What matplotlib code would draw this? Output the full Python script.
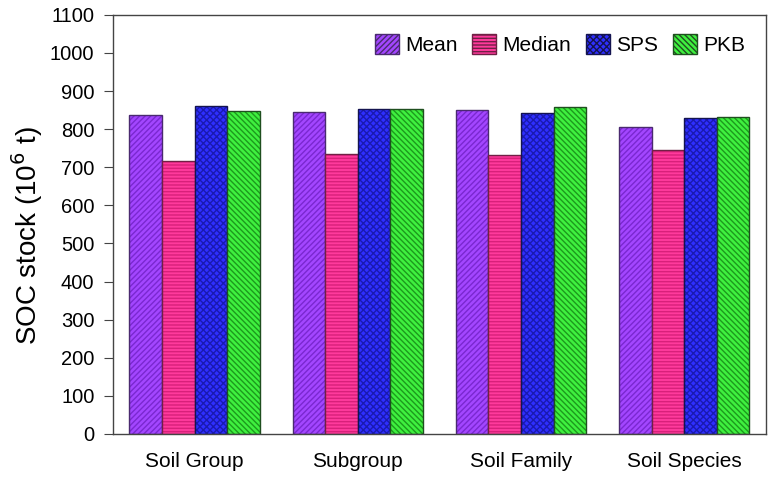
import numpy as np
import matplotlib
matplotlib.use('Agg')
import matplotlib.pyplot as plt

plt.rcParams['font.family'] = ['Liberation Sans', 'DejaVu Sans']
plt.rcParams['hatch.linewidth'] = 1.0

# data
categories = ['Soil Group', 'Subgroup', 'Soil Family', 'Soil Species']
series = ['Mean', 'Median', 'SPS', 'PKB']
mean_vals = [836, 845, 851, 806]
median_vals = [716, 735, 733, 745]
sps_vals = [860, 854, 843, 828]
pkb_vals = [848, 852, 857, 832]

values = [mean_vals, median_vals, sps_vals, pkb_vals]
face = ['#a346ff', '#ff3a9c', '#2f2fff', '#3ff03f']
hatch_col = ['#7a28d0', '#d8207a', '#1a1ab0', '#1d9a1d']
outline = ['#4a2a70', '#702045', '#141450', '#1f4f1f']
hatches = ['//////', '-----', 'xxxxx', '\\\\\\\\\\\\']

fig = plt.figure(figsize=(7.75, 4.8), dpi=100)
ax = fig.add_axes([0.146, 0.096, 0.842, 0.873])

x = np.arange(len(categories))
width = 0.2
for i, name in enumerate(series):
    pos = x + (i - 1.5) * width
    # fill + hatch in a darker shade, then outline on top
    ax.bar(pos, values[i], width, color=face[i], edgecolor=hatch_col[i],
           hatch=hatches[i], linewidth=0)
    ax.bar(pos, values[i], width, facecolor='none', edgecolor=outline[i],
           linewidth=1.0)

# legend patches
leg_handles = []
for i in range(4):
    p = plt.Rectangle((0, 0), 1, 1, facecolor=face[i], edgecolor=outline[i],
                      hatch=hatches[i], linewidth=1.0)
    leg_handles.append(p)
ax.legend(leg_handles, series, loc='upper right', ncol=4, frameon=False,
          fontsize=15, handlelength=1.15, handleheight=1.1, handletextpad=0.3,
          columnspacing=0.7, bbox_to_anchor=(1.0, 1.005), borderaxespad=0.6)

ax.set_xlim(-0.5, 3.5)
ax.set_ylim(0, 1100)
ax.set_yticks(np.arange(0, 1101, 100))
ax.set_xticks(x)
ax.set_xticklabels(categories, fontsize=15)
ax.tick_params(axis='y', labelsize=14.5, length=6.5, pad=7, direction='out',
               color='#444444')
ax.tick_params(axis='x', length=0, pad=13)
ax.set_ylabel('SOC stock (10$^6$ t)', fontsize=20)
ax.yaxis.set_label_coords(-0.104, 0.474)
for s in ax.spines.values():
    s.set_color('#444444')
    s.set_linewidth(1.0)

fig.savefig('out.png', dpi=100)
